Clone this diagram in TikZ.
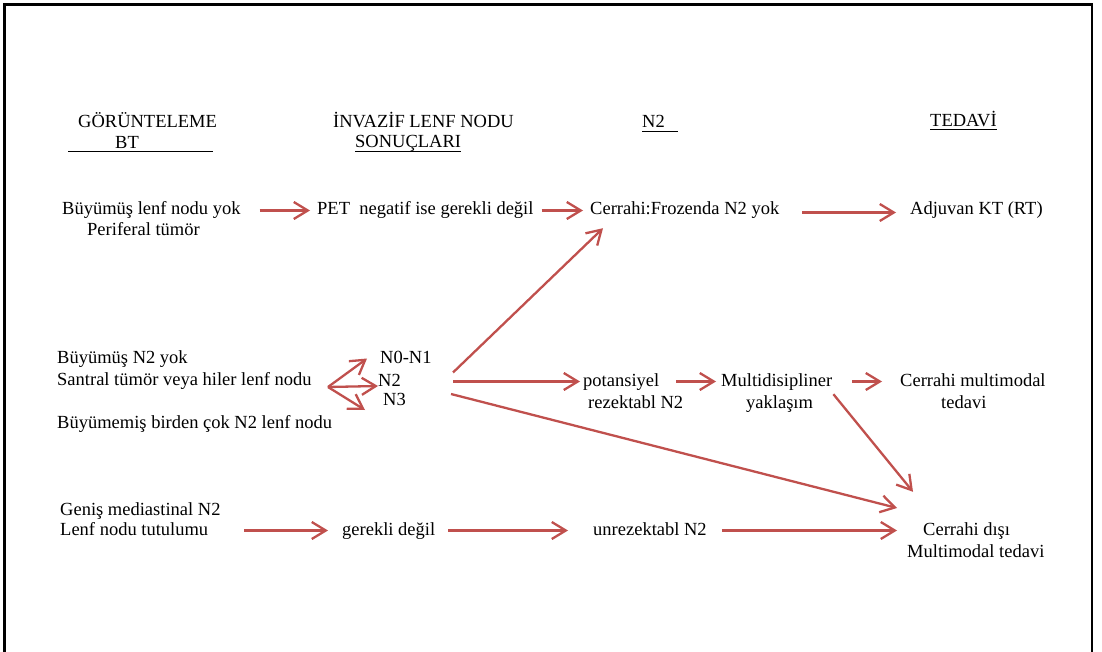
\documentclass[tikz,border=0pt]{standalone}
\usepackage{fontspec}
\setmainfont{Liberation Serif}
\usetikzlibrary{arrows.meta}
\definecolor{arrred}{HTML}{C0504D}
\begin{document}
\begin{tikzpicture}[x=1pt,y=-1pt,
  txt/.style={anchor=base west, inner sep=0pt, font=\fontsize{18.5}{22}\selectfont, text height=13pt, text depth=4pt},
  arr/.style={draw=arrred, line width=2.3pt, -{Straight Barb[length=14pt,width=17pt]}},
  uline/.style={line width=1pt, black},
  frame/.style={line width=2.4pt, black}]
\useasboundingbox (0,0) rectangle (1102,652);
% frame (open at bottom)
\draw[frame] (4.5,660) -- (4.5,4.5) -- (1092,4.5) -- (1092,660);

% headers
\node[txt] (h1) at (78,128) {GÖRÜNTELEME};
\node[txt] (h1b) at (115,149) {BT};
\draw[uline] (68,151.5) -- (213,151.5);
\node[txt] (h2) at (333,128) {İNVAZİF LENF NODU};
\node[txt] (h2b) at (355,148) {SONUÇLARI};
\draw[uline] ([yshift=-3.5pt]h2b.base west) -- ([yshift=-3.5pt]h2b.base east);
\node[txt] (h3) at (642,128) {N2};
\draw[uline] ([yshift=-3.5pt]h3.base west) -- ([xshift=13pt,yshift=-3.5pt]h3.base east);
\node[txt] (h4) at (930,127) {TEDAVİ};
\draw[uline] ([yshift=-3pt]h4.base west) -- ([yshift=-3pt]h4.base east);

% row 1
\node[txt] (b1) at (62,215) {Büyümüş lenf nodu yok};
\node[txt] (b1b) at (87,236) {Periferal tümör};
\node[txt] (pet) at (317,215) {PET\ \ negatif ise gerekli değil};
\node[txt] (fro) at (590,215) {Cerrahi:Frozenda N2 yok};
\node[txt] (adj) at (910,215) {Adjuvan KT (RT)};
\draw[arr] ([xshift=19pt]b1.east) -- ([xshift=-7pt]pet.west);
\draw[arr] ([xshift=8pt]pet.east) -- ([xshift=-7pt]fro.west);
\draw[arr] ([xshift=23pt,yshift=-2pt]fro.east) -- ([xshift=-14pt,yshift=-2pt]adj.west);

% row 2
\node[txt] (c1) at (57,363) {Büyümüş N2 yok};
\node[txt] (c2) at (57,385) {Santral tümör veya hiler lenf nodu};
\node[txt] (c3) at (57,428) {Büyümemiş birden çok N2 lenf nodu};
\node[txt] (n01) at (380,363) {N0-N1};
\node[txt] (n2) at (378,386) {N2};
\node[txt] (n3) at (383,405) {N3};
\coordinate (fk) at (328,387);
\draw[arr] (fk) -- ([xshift=-13pt]n01.west);
\draw[arr] (fk) -- (n2.base west);
\draw[arr] (fk) -- ([xshift=-18pt,yshift=-5pt]n3.base west);

\node[txt] (pot) at (583,386) {potansiyel};
\node[txt] (potb) at (588,408) {rezektabl N2};
\node[txt] (mul) at (721,386) {Multidisipliner};
\node[txt] (mulb) at (746,408) {yaklaşım};
\node[txt] (cmm) at (900,386) {Cerrahi multimodal};
\node[txt] (cmmb) at (941,408) {tedavi};

\draw[arr] ([xshift=52pt,yshift=9pt]n2.east) -- ([xshift=13pt,yshift=-9pt]fro.south west);
\draw[arr] ([xshift=52pt]n2.east) -- ([xshift=-3pt]pot.west);
\draw[arr] ([xshift=17pt]pot.east) -- ([xshift=-5pt]mul.west);
\draw[arr] ([xshift=20pt]mul.east) -- ([xshift=-18pt]cmm.west);

% row 3
\node[txt] (g1) at (60,515) {Geniş mediastinal N2};
\node[txt] (g2) at (60,535) {Lenf nodu tutulumu};
\node[txt] (gd) at (342,535) {gerekli değil};
\node[txt] (un) at (593,535) {unrezektabl N2};
\node[txt] (cd) at (923,535) {Cerrahi dışı};
\node[txt] (cdb) at (907,557) {Multimodal tedavi};

\draw[arr] ([xshift=36pt]g2.east) -- ([xshift=-14pt]gd.west);
\draw[arr] ([xshift=13pt]gd.east) -- ([xshift=-25pt]un.west);
\draw[arr] ([xshift=15pt]un.east) -- ([xshift=-26pt]cd.west);

\draw[arr] ([xshift=45pt,yshift=6.5pt]n3.east) -- ([xshift=-26pt,yshift=22.5pt]cd.west);
\draw[arr] ([xshift=1pt,yshift=-4pt]mul.south east) -- ([xshift=-10pt,yshift=30pt]cd.north west);
\end{tikzpicture}
\end{document}
